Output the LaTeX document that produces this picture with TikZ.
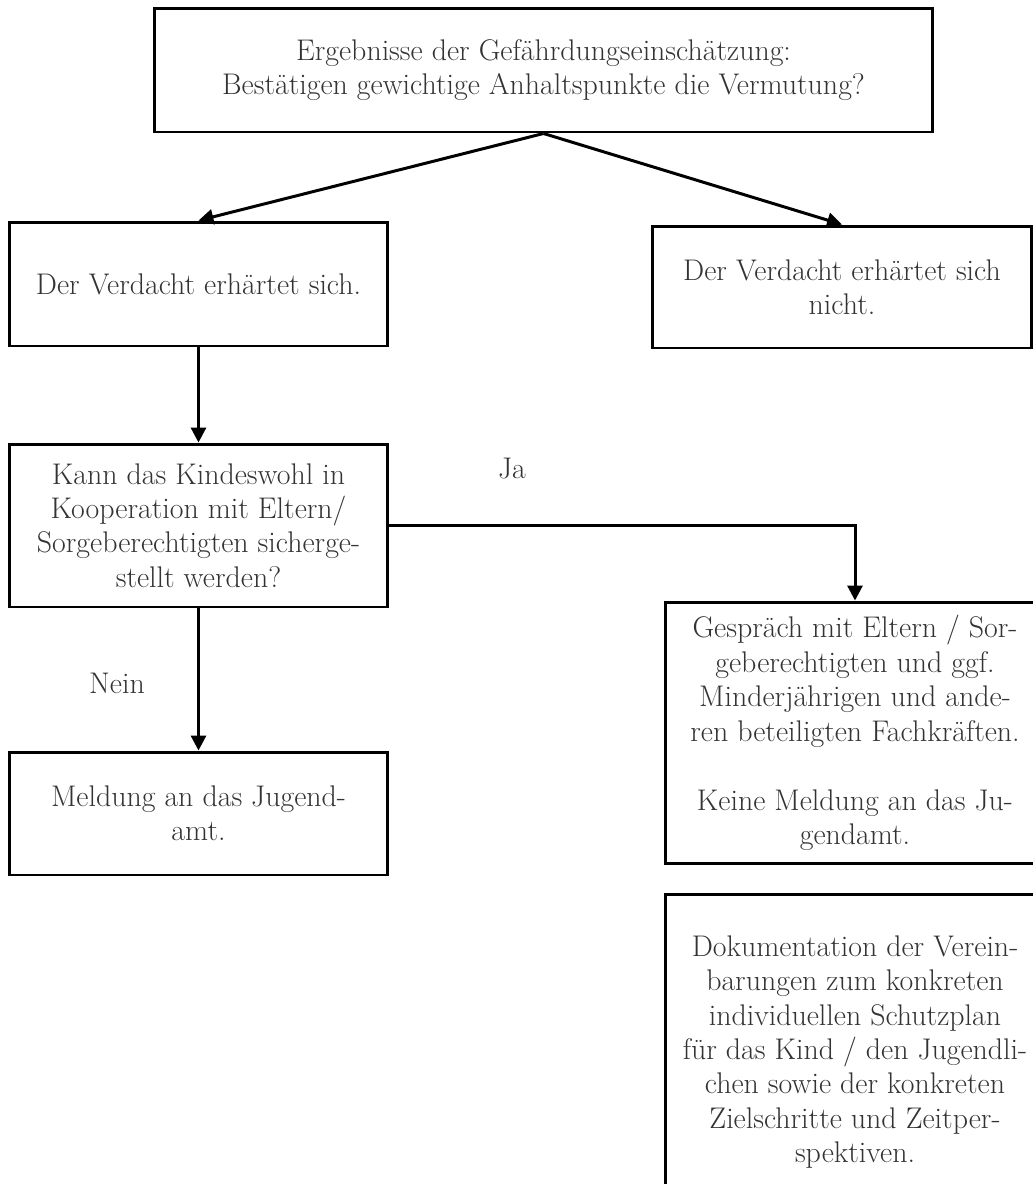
\documentclass[tikz,border=0pt]{standalone}
\usepackage{amsmath}
\usepackage{tikz}
\usetikzlibrary{arrows.meta}

\begin{document}
\begin{tikzpicture}[x=0.02cm,y=-0.02cm]
    \tikzstyle{every node}+=[inner sep=0pt, text=black!80, font=\fontsize{17}{19.6}\selectfont]
    \tikzstyle{box}=[draw=black, line width=1.7pt, align=center, minimum width=7.58cm]
    \tikzstyle{arr}=[black, line width=1.7pt, -{Triangle[width=8.5pt,length=8.5pt]}]
    \useasboundingbox (0,0) rectangle (1033,1184);
    \clip (0,0) rectangle (1033,1184);
    \node [box, minimum width=15.58cm, minimum height=2.48cm] (E) at (543.5,70) {Ergebnisse der Gefährdungseinschätzung:\\Bestätigen gewichtige Anhaltspunkte die Vermutung?};
    \node [box, minimum height=2.48cm] (V) at (198.5,284) {Der Verdacht erhärtet sich.};
    \node [box, minimum height=2.44cm] (N) at (842,287) {Der Verdacht erhärtet sich\\nicht.};
    \node [box, minimum height=3.26cm] (K) at (198.5,525.5) {Kann das Kindeswohl in\\Kooperation mit Eltern/\\Sorgeberechtigten sicherge-\\stellt werden?};
    \node [box, minimum height=2.46cm] (M) at (198.5,813.5) {Meldung an das Jugend-\\amt.};
    \node [box, minimum height=5.24cm] (G) at (855,733) {Gespräch mit Eltern / Sor-\\geberechtigten und ggf.\\Minderjährigen und ande-\\ren beteiligten Fachkräften.\\[19.6pt]Keine Meldung an das Ju-\\gendamt.};
    \node [box, minimum height=6.32cm] (D) at (855,1052) {Dokumentation der Verein-\\barungen zum konkreten\\individuellen Schutzplan\\für das Kind / den Jugendli-\\chen sowie der konkreten\\Zielschritte und Zeitper-\\spektiven.};
    \node (J) at (512,469) {Ja};
    \node (X) at (117,683) {Nein};
    \draw [arr] (E.south) -- (V.north);
    \draw [arr] (E.south) -- (N.north);
    \draw [arr] (V.south) -- (K.north);
    \draw [arr] (K.east) -| (G.north);
    \draw [arr] (K.south) -- (M.north);
\end{tikzpicture}
\end{document}
